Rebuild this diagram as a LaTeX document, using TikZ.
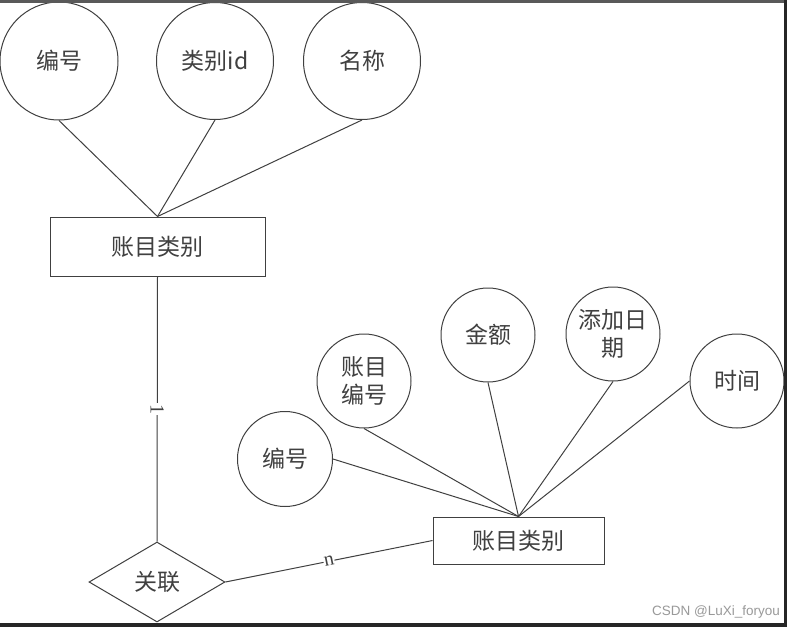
\documentclass[tikz,border=0pt]{standalone}
\usepackage{fontspec}
\setmainfont{Liberation Serif}
\newfontfamily\cjk{Noto Sans CJK SC}
\newfontfamily\wm{Liberation Sans}
\usetikzlibrary{shapes.geometric}
\begin{document}
\begin{tikzpicture}[x=1pt,y=-1pt,
  ln/.style={draw=black!75, line width=1pt},
  attr/.style={circle, ln, inner sep=0pt, font=\cjk\fontsize{23}{28}\selectfont, text=black!75, align=center},
  ent/.style={rectangle, ln, inner sep=0pt, font=\cjk\fontsize{23}{28}\selectfont, text=black!75},
  rel/.style={diamond, ln, inner sep=0pt, aspect=1.7, font=\cjk\fontsize{23}{28}\selectfont, text=black!75},
  card/.style={fill=white, inner sep=1pt, text=black!75, font=\fontsize{20}{20}\selectfont}]
\useasboundingbox (0,0) rectangle (787,627);
\fill[white] (0,0) rectangle (787,627);
% top entity
\node[attr, minimum size=118pt] (a1) at (59,61) {编号};
\node[attr, minimum size=117pt] (a2) at (215,61) {类别id};
\node[attr, minimum size=117pt] (a3) at (362,61) {名称};
\node[ent, minimum width=215pt, minimum height=59pt] (r1) at (157.5,246.5) {账目类别};
\draw[ln] (a1.south) -- (r1.north);
\draw[ln] (a2.south) -- (r1.north);
\draw[ln] (a3.south) -- (r1.north);
% relation
\node[rel, minimum width=136pt, minimum height=80pt] (d) at (157,582) {关联};
\draw[ln] (r1.south) -- node[card, rotate=-90] {1} (d.north);
% second entity
\node[ent, minimum width=171pt, minimum height=47pt] (r2) at (518.5,540.5) {账目类别};
\draw[ln] (d.east) -- node[card, sloped, inner sep=0.5pt] {n} (r2.west);
\node[attr, minimum size=95pt] (b1) at (285,459) {编号};
\node[attr, minimum size=94pt] (b2) at (364,381) {账目\\编号};
\node[attr, minimum size=94pt] (b3) at (488,335) {金额};
\node[attr, minimum size=94pt] (b4) at (613,334) {添加日\\期};
\node[attr, minimum size=94pt] (b5) at (737,381) {时间};
\draw[ln] (b1.east) -- (r2.north);
\draw[ln] (b2.south) -- (r2.north);
\draw[ln] (b3.south) -- (r2.north);
\draw[ln] (b4.south) -- (r2.north);
\draw[ln] (b5.west) -- (r2.north);
% watermark
\node[anchor=west, inner sep=0pt, text=black!40, font=\wm\fontsize{13.5}{13.5}\selectfont] (wm) at (652,612) {CSDN @LuXi\_foryou};
% frame
\fill[black!65] (0,0) rectangle (787,2.5);
\fill[black!85] (783.5,0) rectangle (787,627);
\fill[black!85] (0,623) rectangle (787,627);
\end{tikzpicture}
\end{document}
